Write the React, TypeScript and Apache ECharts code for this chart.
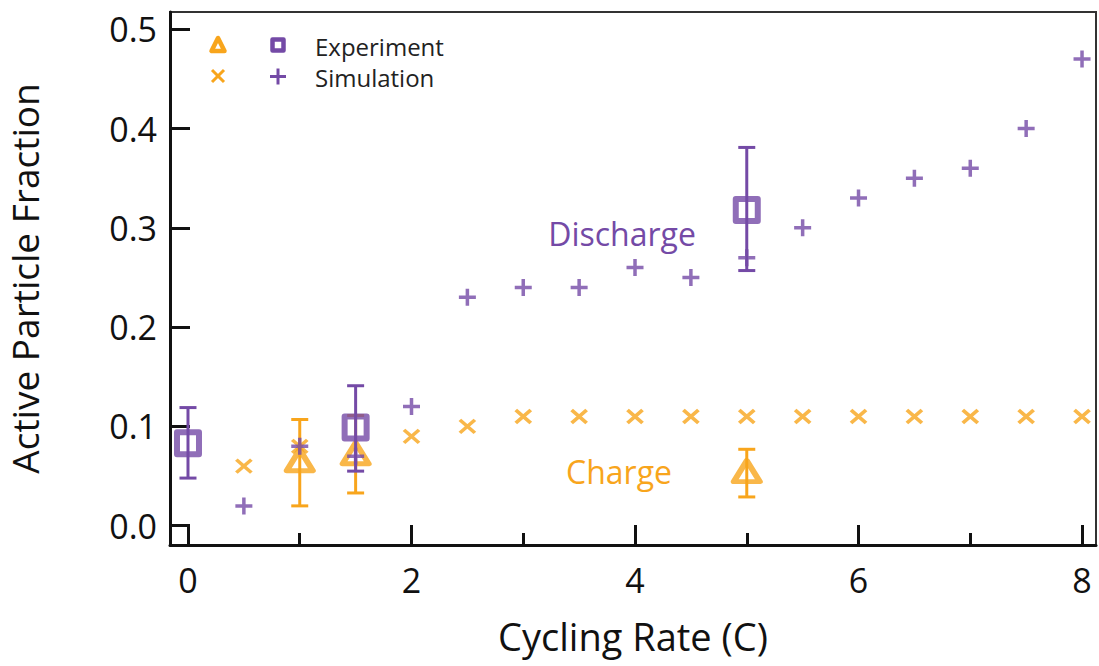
import React, { useEffect, useRef } from "react";
import * as echarts from "echarts";

const xTickValues = [0, 2, 4, 6, 8];
const xMinorTickValues = [1, 3, 5, 7];
const yTickValues = [0, 0.1, 0.2, 0.3, 0.4, 0.5];

const simDischargeX = [0.5, 1, 1.5, 2, 2.5, 3, 3.5, 4, 4.5, 5, 5.5, 6, 6.5, 7, 7.5, 8];
const simDischargeY = [0.02, 0.08, 0.07, 0.12, 0.23, 0.24, 0.24, 0.26, 0.25, 0.27, 0.3, 0.33, 0.35, 0.36, 0.4, 0.47];

const simChargeX = [0.5, 1, 2, 2.5, 3, 3.5, 4, 4.5, 5, 5.5, 6, 6.5, 7, 7.5, 8];
const simChargeY = [0.06, 0.08, 0.09, 0.1, 0.11, 0.11, 0.11, 0.11, 0.11, 0.11, 0.11, 0.11, 0.11, 0.11, 0.11];

const expDischargeX = [0, 1.5, 5];
const expDischargeY = [0.083, 0.099, 0.318];
const expDischargeLow = [0.048, 0.055, 0.257];
const expDischargeHigh = [0.119, 0.141, 0.381];

const expChargeX = [1, 1.5, 5];
const expChargeY = [0.066, 0.073, 0.055];
const expChargeLow = [0.02, 0.033, 0.029];
const expChargeHigh = [0.107, 0.111, 0.077];

const PURPLE = "#744aa6";
const ORANGE = "#f8a51c";
const FONT = "Open Sans";

const zip = (a: number[], b: number[]) => a.map((v, i) => [v, b[i]]);
const zip3 = (a: number[], b: number[], c: number[]) => a.map((v, i) => [v, b[i], c[i]]);

function errorBars(color: string) {
  return (params: any, api: any) => {
    const x = api.value(0);
    const lo = api.coord([x, api.value(1)]);
    const hi = api.coord([x, api.value(2)]);
    const w = 8.5;
    const style = { stroke: color, lineWidth: 3, fill: "none" };
    return {
      type: "group",
      children: [
        { type: "line", shape: { x1: lo[0], y1: lo[1], x2: hi[0], y2: hi[1] }, style },
        { type: "line", shape: { x1: lo[0] - w, y1: lo[1], x2: lo[0] + w, y2: lo[1] }, style },
        { type: "line", shape: { x1: hi[0] - w, y1: hi[1], x2: hi[0] + w, y2: hi[1] }, style },
      ],
    };
  };
}

export default function App() {
  const ref = useRef<HTMLDivElement>(null);
  useEffect(() => {
    if (!ref.current) return;
    const chart = echarts.init(ref.current, undefined, { renderer: "svg" });
    const xMin = -0.161;
    const xMax = 8.125;
    const option: any = {
      animation: false,
      backgroundColor: "#ffffff",
      grid: {
        left: 170,
        right: 3,
        top: 12,
        bottom: 121,
        show: true,
        borderColor: "#333",
        borderWidth: 2,
        outerBoundsMode: "none",
      },
      xAxis: [
        {
          type: "value",
          min: xMin,
          max: xMax,
          position: "bottom",
          name: "Cycling Rate (C)",
          nameLocation: "middle",
          nameGap: 72,
          nameTextStyle: { fontFamily: FONT, fontSize: 38, color: "#111" },
          axisLine: { show: true, onZero: false, lineStyle: { color: "#111", width: 3 } },
          axisTick: { show: true, inside: true, length: 20, customValues: xTickValues, lineStyle: { color: "#111", width: 3 } },
          axisLabel: {
            show: true,
            customValues: xTickValues,
            fontFamily: FONT,
            fontSize: 34,
            color: "#111",
            margin: 18,
          },
          splitLine: { show: false },
        },
        {
          type: "value",
          min: xMin,
          max: xMax,
          position: "bottom",
          axisLine: { show: false, onZero: false },
          axisTick: { show: true, inside: true, length: 12, customValues: xMinorTickValues, lineStyle: { color: "#111", width: 3 } },
          axisLabel: { show: false },
          splitLine: { show: false },
        },
      ],
      yAxis: {
        type: "value",
        min: -0.0194,
        max: 0.5174,
        name: "Active Particle Fraction",
        nameLocation: "middle",
        nameGap: 127,
        nameTextStyle: { fontFamily: FONT, fontSize: 37, color: "#111" },
        axisLine: { show: true, onZero: false, lineStyle: { color: "#111", width: 3 } },
        axisTick: { show: true, inside: true, length: 20, customValues: yTickValues, lineStyle: { color: "#111", width: 3 } },
        axisLabel: {
          show: true,
          customValues: yTickValues,
          formatter: (v: number) => v.toFixed(1),
          fontFamily: FONT,
          fontSize: 34,
          color: "#111",
          margin: 13,
        },
        splitLine: { show: false },
      },
      series: [
        {
          type: "custom",
          name: "Experiment charge error",
          renderItem: errorBars(ORANGE),
          encode: { x: 0, y: [1, 2] },
          data: zip3(expChargeX, expChargeLow, expChargeHigh),
          z: 2,
        },
        {
          type: "scatter",
          name: "Simulation charge",
          symbol: "path://M0,0L10,10M10,0L0,10",
          symbolSize: [15, 13],
          itemStyle: { color: "none", borderColor: ORANGE, borderWidth: 3.5 },
          data: zip(simChargeX, simChargeY),
          z: 3,
        },
        {
          type: "scatter",
          name: "Experiment charge",
          symbol: "triangle",
          symbolSize: [26, 21],
          itemStyle: { color: "none", borderColor: ORANGE, borderWidth: 5.5, borderJoin: "round" },
          data: zip(expChargeX, expChargeY),
          z: 4,
        },
        {
          type: "custom",
          name: "Experiment discharge error",
          renderItem: errorBars(PURPLE),
          encode: { x: 0, y: [1, 2] },
          data: zip3(expDischargeX, expDischargeLow, expDischargeHigh),
          z: 5,
        },
        {
          type: "scatter",
          name: "Simulation discharge",
          symbol: "path://M5,0L5,10M0,5L10,5",
          symbolSize: [17, 17],
          itemStyle: { color: "none", borderColor: PURPLE, borderWidth: 3.5 },
          data: zip(simDischargeX, simDischargeY),
          z: 6,
        },
        {
          type: "scatter",
          name: "Experiment discharge",
          symbol: "rect",
          symbolSize: [22, 22],
          itemStyle: { color: "none", borderColor: PURPLE, borderWidth: 6, borderJoin: "round" },
          data: zip(expDischargeX, expDischargeY),
          z: 7,
        },
      ],
      graphic: [
        {
          type: "polygon",
          shape: { points: [[218, 38], [211.5, 51], [224.5, 51]] },
          style: { fill: "none", stroke: ORANGE, lineWidth: 4.5, lineJoin: "round" },
        },
        {
          type: "rect",
          shape: { x: 272.5, y: 39.5, width: 11, height: 11 },
          style: { fill: "none", stroke: PURPLE, lineWidth: 4.5, lineJoin: "round" },
        },
        {
          type: "text",
          x: 315,
          y: 46,
          style: { text: "Experiment", fontFamily: FONT, fontSize: 24, fill: "#222", verticalAlign: "middle", align: "left" },
        },
        {
          type: "line",
          shape: { x1: 212, y1: 70, x2: 224, y2: 82 },
          style: { stroke: ORANGE, lineWidth: 3 },
        },
        {
          type: "line",
          shape: { x1: 224, y1: 70, x2: 212, y2: 82 },
          style: { stroke: ORANGE, lineWidth: 3 },
        },
        {
          type: "line",
          shape: { x1: 278, y1: 68.5, x2: 278, y2: 84.5 },
          style: { stroke: PURPLE, lineWidth: 3 },
        },
        {
          type: "line",
          shape: { x1: 270, y1: 76.5, x2: 286, y2: 76.5 },
          style: { stroke: PURPLE, lineWidth: 3 },
        },
        {
          type: "text",
          x: 315,
          y: 77,
          style: { text: "Simulation", fontFamily: FONT, fontSize: 24, fill: "#222", verticalAlign: "middle", align: "left" },
        },
        {
          type: "text",
          x: 622,
          y: 233,
          style: { text: "Discharge", fontFamily: FONT, fontSize: 32, fill: PURPLE, verticalAlign: "middle", align: "center" },
        },
        {
          type: "text",
          x: 619,
          y: 471,
          style: { text: "Charge", fontFamily: FONT, fontSize: 32, fill: ORANGE, verticalAlign: "middle", align: "center" },
        },
      ],
    };
    chart.setOption(option);
    return () => chart.dispose();
  }, []);
  return (
    <div
      ref={ref}
      style={{ position: "absolute", left: 0, top: 0, width: 1099, height: 666 }}
    />
  );
}
